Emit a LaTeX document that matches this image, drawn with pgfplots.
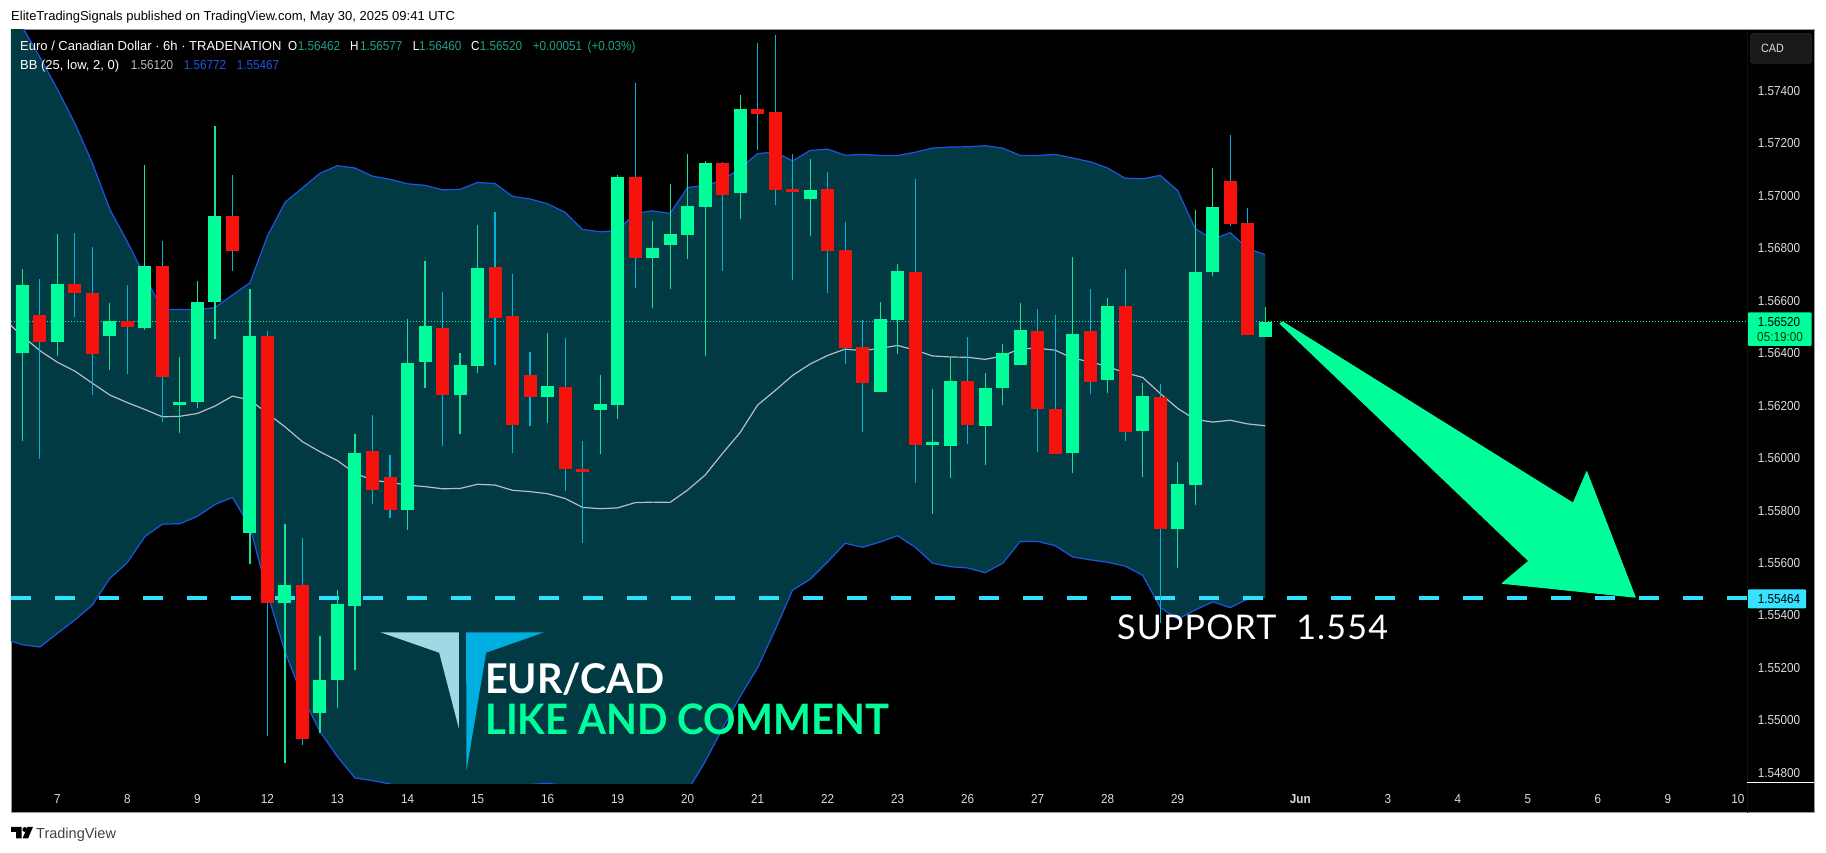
\documentclass[border=0pt]{standalone}
\usepackage{fontspec}
\usepackage{pgfplots}
\usepackage{pgfplotstable}
\pgfplotsset{compat=1.18}
\setmainfont[FakeStretch=0.9]{Liberation Sans}
\newfontfamily\wide{Liberation Sans}
\newfontfamily\latb[FakeStretch=0.965]{Lato Bold}
\newfontfamily\latl[FakeStretch=0.955]{Lato Bold}
\newfontfamily\lats[LetterSpace=3.5]{Lato}
\definecolor{bandc}{HTML}{023A44}
\definecolor{bluec}{HTML}{1E55E0}
\definecolor{midc}{HTML}{B8BDBD}
\definecolor{gbody}{HTML}{00FF9A}
\definecolor{rbody}{HTML}{F7130D}
\definecolor{gwick}{HTML}{14E39A}
\definecolor{rwick}{HTML}{00B4DA}
\definecolor{cyanl}{HTML}{2FE0FA}
\definecolor{cyanb}{HTML}{36E2FF}
\definecolor{teal1}{HTML}{1FA087}
\definecolor{tick}{HTML}{DCDCDC}
\newcommand\fs[1]{\fontsize{#1}{#1}\selectfont}
% i high bodytop bodybottom low
\pgfplotstableread{
i H T B L
0 1.56720 1.56659 1.56401 1.56065
2 1.56853 1.56663 1.56443 1.56390
5 1.56591 1.56522 1.56466 1.56335
7 1.57116 1.56732 1.56495 1.56489
9 1.56385 1.56213 1.56202 1.56094
10 1.56674 1.56594 1.56215 1.56192
11 1.57265 1.56922 1.56594 1.56453
13 1.56644 1.56465 1.55716 1.55596
15 1.55749 1.55516 1.55449 1.54839
17 1.55322 1.55154 1.55028 1.54954
18 1.55497 1.55444 1.55155 1.55049
19 1.56091 1.56019 1.55437 1.55194
22 1.56530 1.56362 1.55803 1.55727
23 1.56751 1.56503 1.56367 1.56268
25 1.56400 1.56354 1.56241 1.56091
26 1.56888 1.56724 1.56352 1.56325
30 1.56476 1.56274 1.56234 1.56135
33 1.56316 1.56206 1.56184 1.56015
34 1.57078 1.57071 1.56203 1.56150
36 1.56903 1.56800 1.56763 1.56573
37 1.57044 1.56853 1.56813 1.56645
38 1.57158 1.56960 1.56850 1.56758
39 1.57132 1.57124 1.56958 1.56390
41 1.57383 1.57330 1.57011 1.56911
45 1.57139 1.57021 1.56988 1.56847
49 1.56594 1.56530 1.56253 1.56253
50 1.56739 1.56712 1.56527 1.56398
52 1.56263 1.56061 1.56051 1.55788
53 1.56385 1.56293 1.56047 1.55925
55 1.56324 1.56267 1.56123 1.55975
56 1.56434 1.56400 1.56268 1.56203
57 1.56591 1.56488 1.56356 1.56356
60 1.56766 1.56472 1.56020 1.55944
62 1.56610 1.56579 1.56298 1.56249
64 1.56286 1.56236 1.56104 1.55929
66 1.55985 1.55901 1.55731 1.55582
67 1.56945 1.56709 1.55898 1.55822
68 1.57105 1.56956 1.56710 1.56695
71 1.56577 1.56520 1.56462 1.56460
}\greenbars
\pgfplotstableread{
i H T B L
1 1.56682 1.56545 1.56443 1.55996
3 1.56857 1.56663 1.56629 1.56538
4 1.56804 1.56629 1.56398 1.56241
6 1.56659 1.56522 1.56499 1.56321
8 1.56827 1.56732 1.56310 1.56138
12 1.57078 1.56922 1.56790 1.56714
14 1.56484 1.56465 1.55449 1.54942
16 1.55695 1.55516 1.54929 1.54908
20 1.56164 1.56027 1.55879 1.55826
21 1.56011 1.55928 1.55803 1.55771
24 1.56632 1.56495 1.56241 1.56047
27 1.56937 1.56728 1.56535 1.56356
28 1.56701 1.56541 1.56127 1.56019
29 1.56404 1.56316 1.56234 1.56123
31 1.56457 1.56271 1.55958 1.55874
32 1.56065 1.55958 1.55948 1.55676
35 1.57429 1.57071 1.56763 1.56649
40 1.57128 1.57124 1.57003 1.56714
42 1.57581 1.57330 1.57311 1.57175
43 1.57612 1.57318 1.57022 1.56965
44 1.57158 1.57025 1.57015 1.56679
46 1.57090 1.57025 1.56790 1.56629
47 1.56899 1.56792 1.56420 1.56359
48 1.56526 1.56423 1.56287 1.56100
51 1.57063 1.56709 1.56051 1.55906
54 1.56461 1.56293 1.56127 1.56055
58 1.56568 1.56484 1.56188 1.56024
59 1.56545 1.56187 1.56017 1.56017
61 1.56644 1.56484 1.56291 1.56245
63 1.56720 1.56579 1.56100 1.56066
65 1.56282 1.56232 1.55731 1.55370
69 1.57231 1.57055 1.56893 1.56885
70 1.56953 1.56895 1.56470 1.56470
}\redbars
% i upper middle lower
\pgfplotstableread{
i U M Lo
-1 1.57821 1.56526 1.55310
0 1.57643 1.56465 1.55289
1 1.57527 1.56409 1.55280
2 1.57405 1.56365 1.55332
3 1.57275 1.56331 1.55383
4 1.57123 1.56285 1.55440
5 1.56947 1.56240 1.55542
6 1.56824 1.56211 1.55602
7 1.56691 1.56185 1.55701
8 1.56566 1.56157 1.55748
9 1.56566 1.56159 1.55750
10 1.56565 1.56170 1.55778
11 1.56573 1.56198 1.55823
12 1.56621 1.56236 1.55850
13 1.56668 1.56221 1.55739
14 1.56846 1.56170 1.55485
15 1.56974 1.56119 1.55262
16 1.57030 1.56062 1.55091
17 1.57085 1.56024 1.54958
18 1.57114 1.55990 1.54862
19 1.57105 1.55942 1.54781
20 1.57074 1.55916 1.54771
21 1.57062 1.55907 1.54758
22 1.57045 1.55897 1.54735
23 1.57039 1.55891 1.54716
24 1.57022 1.55883 1.54710
25 1.57024 1.55884 1.54716
26 1.57050 1.55900 1.54729
27 1.57046 1.55897 1.54742
28 1.56997 1.55877 1.54748
29 1.56987 1.55872 1.54756
30 1.56969 1.55864 1.54761
31 1.56936 1.55846 1.54751
32 1.56871 1.55812 1.54735
33 1.56862 1.55807 1.54716
34 1.56866 1.55810 1.54704
35 1.56932 1.55830 1.54685
36 1.56942 1.55832 1.54678
37 1.56932 1.55831 1.54691
38 1.57031 1.55878 1.54732
39 1.57038 1.55935 1.54843
40 1.57059 1.56018 1.54970
41 1.57104 1.56097 1.55091
42 1.57160 1.56202 1.55201
43 1.57166 1.56257 1.55345
44 1.57132 1.56315 1.55497
45 1.57172 1.56358 1.55538
46 1.57177 1.56391 1.55604
47 1.57154 1.56415 1.55675
48 1.57157 1.56409 1.55660
49 1.57153 1.56418 1.55680
50 1.57153 1.56429 1.55704
51 1.57165 1.56411 1.55660
52 1.57181 1.56389 1.55599
53 1.57185 1.56385 1.55586
54 1.57186 1.56384 1.55581
55 1.57190 1.56376 1.55563
56 1.57181 1.56389 1.55599
57 1.57153 1.56417 1.55682
58 1.57153 1.56418 1.55682
59 1.57157 1.56411 1.55666
60 1.57143 1.56380 1.55623
61 1.57129 1.56367 1.55612
62 1.57105 1.56348 1.55603
63 1.57066 1.56325 1.55588
64 1.57064 1.56307 1.55553
65 1.57077 1.56246 1.55431
66 1.57019 1.56189 1.55386
67 1.56874 1.56147 1.55421
68 1.56834 1.56137 1.55452
69 1.56859 1.56144 1.55430
70 1.56798 1.56130 1.55463
71 1.56775 1.56123 1.55471
}\bands
\begin{document}
\begin{tikzpicture}[x=1pt,y=1pt]
\begin{scope}[x=1pt,y=-1pt,shift={(-11pt,784pt)}]
\path[use as bounding box,fill=white] (0,0) rectangle (1826,853);
\fill[black] (11,30) rectangle (1814,813);
\draw[color=black!40,line width=1pt] (11,30) rectangle (1814.5,813);
\draw[color=black!94!white,line width=.8pt] (1747,30) -- (1747,813);
\end{scope}
\begin{axis}[
  at={(0,0)},anchor=south west,scale only axis,
  width=1736pt,height=754pt,
  xmin=-0.651,xmax=98.52,ymin=1.54758,ymax=1.57631,
  axis line style={draw=none},major tick length=0pt,
  xtick={2,6,10,14,18,22,26,30,34,38,42,46,50,54,58,62,66,73,78,82,86,90,94,98},
  xticklabels={7,8,9,12,13,14,15,16,19,20,21,22,23,26,27,28,29,\textbf{Jun},3,4,5,6,9,10},
  ytick={1.548,1.550,1.552,1.554,1.556,1.558,1.560,1.562,1.564,1.566,1.568,1.570,1.572,1.574},
  yticklabel pos=right,
  /pgf/number format/.cd,fixed,fixed zerofill,precision=5,assume math mode=true,
  /pgfplots/.cd,
  xticklabel style={anchor=base,yshift=-19.7pt,font=\fs{13},text=tick},
  yticklabel style={anchor=west,inner sep=0pt,xshift=10.6pt,font=\fs{13},text=tick},
]
% band: upper edge forward, lower edge back
\addplot[fill=bandc,draw=none,forget plot] coordinates {
(-1,1.57821)(0,1.57643)(1,1.57527)(2,1.57405)(3,1.57275)(4,1.57123)(5,1.56947)(6,1.56824)(7,1.56691)(8,1.56566)(9,1.56566)(10,1.56565)(11,1.56573)(12,1.56621)(13,1.56668)(14,1.56846)(15,1.56974)(16,1.57030)(17,1.57085)(18,1.57114)(19,1.57105)(20,1.57074)(21,1.57062)(22,1.57045)(23,1.57039)(24,1.57022)(25,1.57024)(26,1.57050)(27,1.57046)(28,1.56997)(29,1.56987)(30,1.56969)(31,1.56936)(32,1.56871)(33,1.56862)(34,1.56866)(35,1.56932)(36,1.56942)(37,1.56932)(38,1.57031)(39,1.57038)(40,1.57059)(41,1.57104)(42,1.57160)(43,1.57166)(44,1.57132)(45,1.57172)(46,1.57177)(47,1.57154)(48,1.57157)(49,1.57153)(50,1.57153)(51,1.57165)(52,1.57181)(53,1.57185)(54,1.57186)(55,1.57190)(56,1.57181)(57,1.57153)(58,1.57153)(59,1.57157)(60,1.57143)(61,1.57129)(62,1.57105)(63,1.57066)(64,1.57064)(65,1.57077)(66,1.57019)(67,1.56874)(68,1.56834)(69,1.56859)(70,1.56798)(71,1.56775)
(71,1.55471)(70,1.55463)(69,1.55430)(68,1.55452)(67,1.55421)(66,1.55386)(65,1.55431)(64,1.55553)(63,1.55588)(62,1.55603)(61,1.55612)(60,1.55623)(59,1.55666)(58,1.55682)(57,1.55682)(56,1.55599)(55,1.55563)(54,1.55581)(53,1.55586)(52,1.55599)(51,1.55660)(50,1.55704)(49,1.55680)(48,1.55660)(47,1.55675)(46,1.55604)(45,1.55538)(44,1.55497)(43,1.55345)(42,1.55201)(41,1.55091)(40,1.54970)(39,1.54843)(38,1.54732)(37,1.54691)(36,1.54678)(35,1.54685)(34,1.54704)(33,1.54716)(32,1.54735)(31,1.54751)(30,1.54761)(29,1.54756)(28,1.54748)(27,1.54742)(26,1.54729)(25,1.54716)(24,1.54710)(23,1.54716)(22,1.54735)(21,1.54758)(20,1.54771)(19,1.54781)(18,1.54862)(17,1.54958)(16,1.55091)(15,1.55262)(14,1.55485)(13,1.55739)(12,1.55850)(11,1.55823)(10,1.55778)(9,1.55750)(8,1.55748)(7,1.55701)(6,1.55602)(5,1.55542)(4,1.55440)(3,1.55383)(2,1.55332)(1,1.55280)(0,1.55289)(-1,1.55310)
} \closedcycle;
\addplot[draw=bluec,line width=1.2pt,forget plot] table[x=i,y=U]{\bands};
\addplot[draw=bluec,line width=1.2pt,forget plot] table[x=i,y=Lo]{\bands};
\addplot[draw=midc,line width=1.2pt,forget plot] table[x=i,y=M]{\bands};
\addplot[draw=gbody,line width=.9pt,dash pattern=on 1pt off 2pt,forget plot] coordinates {(-0.651,1.5652) (98.52,1.5652)};
\addplot[draw=cyanl,line width=3.7pt,dash pattern=on 20pt off 24pt,forget plot] coordinates {(-0.651,1.55468) (98.52,1.55468)};
% wicks
\addplot[draw=none,mark=none,forget plot,error bars/.cd,y dir=both,y explicit,error mark=none,error bar style={draw=gwick,line width=1.1pt}]
  table[x=i,y=T,y error plus expr=\thisrow{H}-\thisrow{T},y error minus expr=\thisrow{T}-\thisrow{L}]{\greenbars};
\addplot[draw=none,mark=none,forget plot,error bars/.cd,y dir=both,y explicit,error mark=none,error bar style={draw=rwick,line width=1.1pt}]
  table[x=i,y=T,y error plus expr=\thisrow{H}-\thisrow{T},y error minus expr=\thisrow{T}-\thisrow{L}]{\redbars};
% bodies
\addplot[draw=none,mark=none,forget plot,error bars/.cd,y dir=minus,y explicit,error mark=none,error bar style={draw=gbody,line width=13pt}]
  table[x=i,y=T,y error minus expr=\thisrow{T}-\thisrow{B}]{\greenbars};
\addplot[draw=none,mark=none,forget plot,error bars/.cd,y dir=minus,y explicit,error mark=none,error bar style={draw=rbody,line width=13pt}]
  table[x=i,y=T,y error minus expr=\thisrow{T}-\thisrow{B}]{\redbars};
\end{axis}
\begin{scope}[x=1pt,y=-1pt,shift={(-11pt,784pt)}]
% arrow
\fill[gbody,line join=round,draw=gbody,line width=1pt] (1280,323.5)--(1282.8,322)--(1573.2,503.3)--(1586.7,471.7)--(1635.2,597.2)--(1502.3,583.3)--(1528.9,561)--cycle;
% logo
\fill[color={rgb,255:red,160;green,216;blue,227}] (380.4,632.3)--(458.8,632.3)--(458.8,728.3)--(439.2,652.7)--cycle;
\fill[color={rgb,255:red,0;green,174;blue,224}] (466.1,632.3)--(544.1,632.3)--(486.1,652.7)--(466.5,770.7)--cycle;
\node[anchor=base west,inner sep=0,text=white] at (485,693.5) {\latb\fs{41}EUR/CAD};
\node[anchor=base west,inner sep=0,text=gbody] at (485,734.5) {\latl\fs{42}LIKE AND COMMENT};
\node[anchor=base west,inner sep=0,text=white] at (1117,640) {\lats\fs{34}SUPPORT\ \ 1.554};
% price labels
\fill[gbody,rounded corners=1pt] (1748,312.3) rectangle (1811.5,346);
\node[anchor=center,inner sep=0,text=black] at (1779,321.7) {\fs{13}1.56520};
\node[anchor=center,inner sep=0,text=black!60!green!60!black] at (1780,336.7) {\fs{13}05:19:00};
\fill[cyanb,rounded corners=1pt] (1748,589.3) rectangle (1806,608.3);
\node[anchor=center,inner sep=0,text=black] at (1779,599) {\fs{13}1.55464};
\fill[color=black!90!white,draw=black!75!white,rounded corners=3pt] (1750.5,33.3) rectangle (1811.5,63.3);
\node[anchor=base,inner sep=0,text=tick] at (1772.5,52.5) {\fs{12}CAD};
\draw[white,line width=1pt] (1747,783) -- (1814,783);
% header
\node[anchor=base west,inner sep=0,text=black] at (11,21) {\wide\fs{13}EliteTradingSignals published on TradingView.com, May 30, 2025 09:41 UTC};
\node[anchor=base west,inner sep=0,text=white] at (20,51) {\wide\fs{13}Euro / Canadian Dollar · 6h · TRADENATION};
\node[anchor=base west,inner sep=0,text=white] at (288,51) {\fs{13}O};
\node[anchor=base west,inner sep=0,text=teal1] at (297.6,51) {\fs{13}1.56462};
\node[anchor=base west,inner sep=0,text=white] at (350,51) {\fs{13}H};
\node[anchor=base west,inner sep=0,text=teal1] at (360,51) {\fs{13}1.56577};
\node[anchor=base west,inner sep=0,text=white] at (412.7,51) {\fs{13}L};
\node[anchor=base west,inner sep=0,text=teal1] at (419,51) {\fs{13}1.56460};
\node[anchor=base west,inner sep=0,text=white] at (471,51) {\fs{13}C};
\node[anchor=base west,inner sep=0,text=teal1] at (479.6,51) {\fs{13}1.56520};
\node[anchor=base west,inner sep=0,text=teal1] at (532.7,51) {\fs{13}+0.00051};
\node[anchor=base west,inner sep=0,text=teal1] at (587.5,51) {\fs{13}(+0.03\%)};
\node[anchor=base west,inner sep=0,text=white] at (20,70) {\wide\fs{13}BB (25, low, 2, 0)};
\node[anchor=base west,inner sep=0,text=midc] at (130.6,70) {\fs{13}1.56120};
\node[anchor=base west,inner sep=0,text=bluec] at (183.7,70) {\fs{13}1.56772};
\node[anchor=base west,inner sep=0,text=bluec] at (236.7,70) {\fs{13}1.55467};
% footer
\fill[black] (11,827)--(21.5,827)--(21.5,838.5)--(16.2,838.5)--(16.2,832)--(11,832)--cycle;
\fill[black] (24.8,829.5) circle (2.4);
\fill[black] (22.5,838.5)--(27.5,827)--(33,827)--(28,838.5)--cycle;
\node[anchor=base west,inner sep=0,text=black!75] at (36,838.5) {\wide\fs{14.5}TradingView};
\end{scope}
\end{tikzpicture}
\end{document}
